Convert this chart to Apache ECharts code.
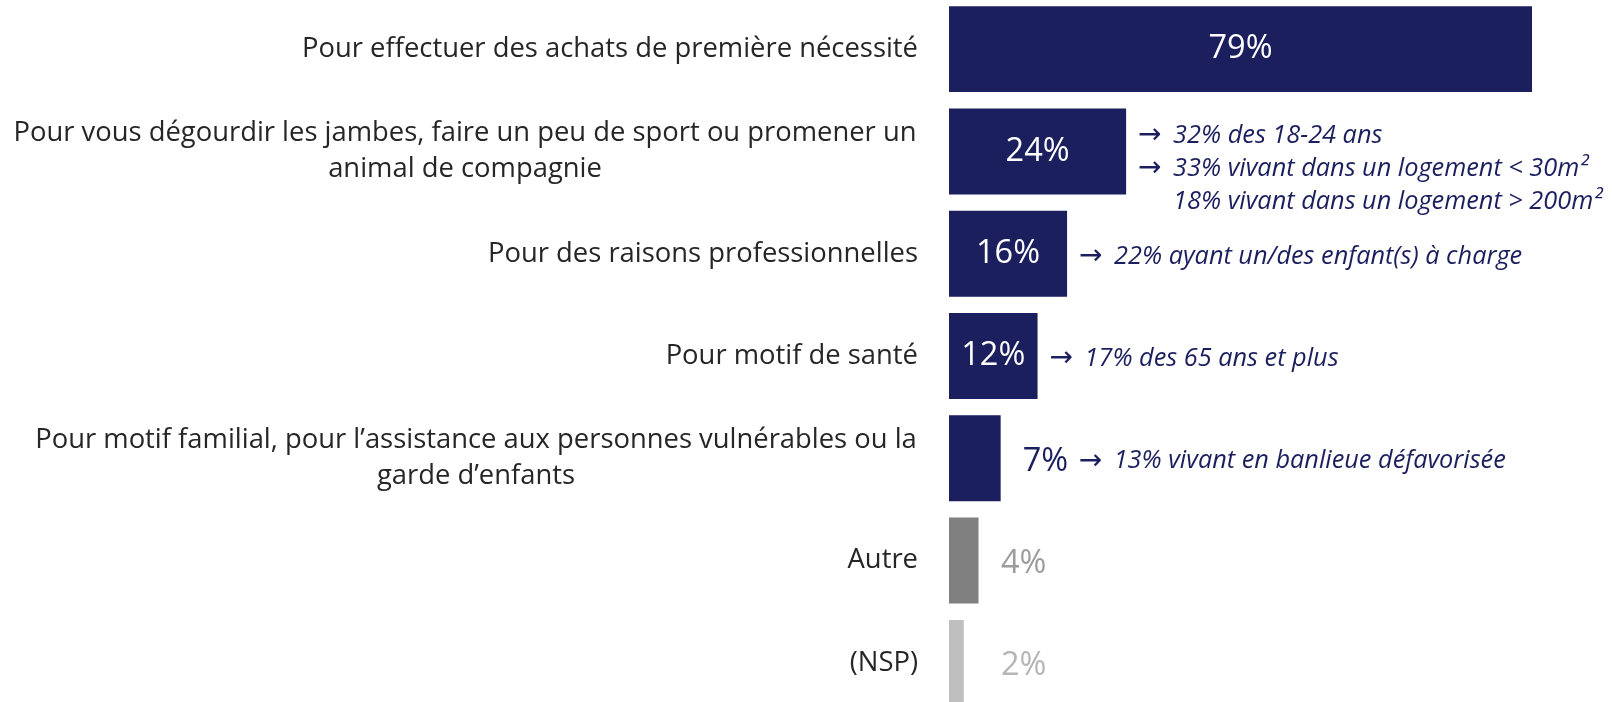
<!DOCTYPE html>
<html>
  <head>
    <meta charset="utf-8" />
    <title>Motifs de sortie</title>
    <script src="https://cdn.jsdelivr.net/npm/echarts@6/dist/echarts.min.js"></script>
  </head>
  <body style="margin: 0">
    <div id="main" style="width: 1612px; height: 702px"></div>
    <script type="text/javascript">
      const categories = [
        'Pour effectuer des achats de première nécessité',
        'Pour vous dégourdir les jambes, faire un peu de sport ou promener un\nanimal de compagnie',
        'Pour des raisons professionnelles',
        'Pour motif de santé',
        'Pour motif familial, pour l’assistance aux personnes vulnérables ou la\ngarde d’enfants',
        'Autre',
        '(NSP)'
      ];
      const values = [79, 24, 16, 12, 7, 4, 2];
      const notes = [
        [],
        ['→ 32% des 18-24 ans', '→ 33% vivant dans un logement < 30m²', '18% vivant dans un logement > 200m²'],
        ['→ 22% ayant un/des enfant(s) à charge'],
        ['→ 17% des 65 ans et plus'],
        ['→ 13% vivant en banlieue défavorisée'],
        [],
        []
      ];

      const NAVY = '#1b1f5e';
      const FONT = '"Open Sans", sans-serif';
      const LABEL_SIZE = 27.4;
      const NOTE_SIZE = 25.3;
      const PX_PER_PCT = 7.38;

      // mesure des lignes pour centrer les libellés sur deux lignes
      const cv = document.createElement('canvas').getContext('2d');
      cv.font = LABEL_SIZE + 'px ' + FONT;
      const rich = {};
      categories.forEach(function (c, i) {
        const w = Math.max.apply(null, c.split('\n').map(function (l) {
          return cv.measureText(l).width;
        }));
        rich['c' + i] = {
          width: Math.ceil(w) + 2,
          align: 'center',
          fontSize: LABEL_SIZE,
          fontFamily: FONT,
          color: '#262626',
          lineHeight: 36
        };
      });

      function barColor(i) {
        if (categories[i] === 'Autre') return '#808080';
        if (categories[i] === '(NSP)') return '#bfbfbf';
        return NAVY;
      }
      function valueColor(i) {
        if (categories[i] === 'Autre') return '#9c9c9c';
        if (categories[i] === '(NSP)') return '#b5b5b5';
        return NAVY;
      }

      const mainData = values.map(function (v, i) {
        const inside = v >= 10;
        return {
          value: v,
          itemStyle: { color: barColor(i) },
          label: {
            position: inside ? 'inside' : 'right',
            // les petites valeurs s'alignent sur une même colonne
            distance: Math.max(22, 52 - v * PX_PER_PCT),
            color: inside ? '#fff' : valueColor(i),
            offset: inside ? [0, 0] : [0, 3]
          }
        };
      });

      const noteData = values.map(function (v, i) {
        const n = notes[i];
        return {
          value: v,
          label: {
            show: n.length > 0,
            distance: v >= 10 ? 12 : 78,
            offset: [0, n.length > 1 ? 17 : 3]
          }
        };
      });

      var chartDom = document.getElementById('main');
      var myChart = echarts.init(chartDom);
      var option = {
        animation: false,
        backgroundColor: '#fff',
        grid: {
          left: 949,
          width: 738,
          top: -2,
          height: 716,
          containLabel: false,
          outerBoundsMode: 'none'
        },
        xAxis: {
          type: 'value',
          min: 0,
          max: 100,
          show: false
        },
        yAxis: {
          type: 'category',
          inverse: true,
          data: categories,
          axisLine: { show: false },
          axisTick: { show: false },
          splitLine: { show: false },
          axisLabel: {
            interval: 0,
            margin: 31,
            fontSize: LABEL_SIZE,
            fontFamily: FONT,
            color: '#262626',
            lineHeight: 36,
            rich: rich,
            formatter: function (value, index) {
              const lines = value.split('\n');
              if (lines.length < 2) return value;
              return lines.map(function (l) {
                return '{c' + index + '|' + l + '}';
              }).join('\n');
            }
          }
        },
        series: [
          {
            type: 'bar',
            barCategoryGap: '16%',
            data: mainData,
            label: {
              show: true,
              formatter: '{c}%',
              fontSize: 32.5,
              fontFamily: FONT
            }
          },
          {
            type: 'bar',
            barGap: '-100%',
            silent: true,
            itemStyle: { color: 'rgba(0,0,0,0)' },
            data: noteData,
            label: {
              position: 'right',
              color: NAVY,
              fontSize: NOTE_SIZE,
              fontStyle: 'italic',
              fontFamily: FONT,
              lineHeight: 33,
              rich: {
                a: { width: 35, fontSize: 28, color: NAVY, fontFamily: 'DejaVu Sans' },
                t: { fontSize: NOTE_SIZE, fontStyle: 'italic', fontFamily: FONT, color: NAVY }
              },
              formatter: function (p) {
                return notes[p.dataIndex].map(function (l) {
                  if (l.indexOf('→ ') === 0) return '{a|→}{t|' + l.slice(2) + '}';
                  return '{a|\u00a0}{t|' + l + '}';
                }).join('\n');
              }
            }
          }
        ]
      };

      option && myChart.setOption(option);
    </script>
  </body>
</html>
